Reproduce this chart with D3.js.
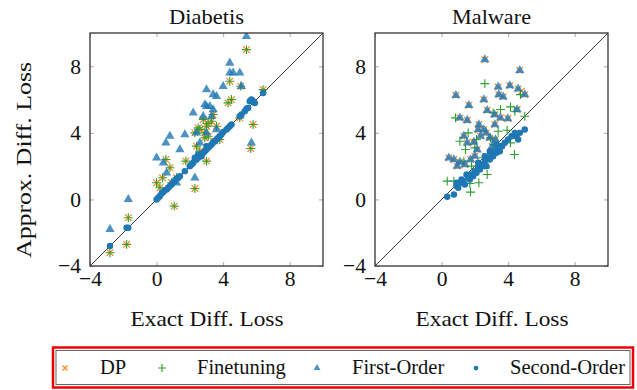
<!DOCTYPE html>
<html>
<head>
<meta charset="utf-8">
<script src="https://cdn.jsdelivr.net/npm/d3@7"></script>
<style>
  body { margin: 0; background: #fff; }
  svg { display: block; font-family: "Liberation Serif", "DejaVu Serif", serif; }
</style>
</head>
<body>
<div id="chart"></div>
<script>
const TICKS = [-4, 0, 4, 8];
const DOMAIN = [-4, 10];
const SERIES = ['DP', 'Finetuning', 'First-Order', 'Second-Order'];

// Diabetis panel, [exact, approx]
const diabetisDP = [
  [5.4, 9.0], [4.4, 7.1], [5.06, 6.8], [4.5, 6.0], [4.3, 5.8], [6.4, 6.6], [5.8, 4.5], [5.66, 3.06],
  [3.4, 5.1], [2.3, 4.0], [2.4, 3.2], [2.9, 3.7], [3.6, 4.4], [3.8, 3.6], [3.0, 2.3], [1.76, 2.3],
  [0.56, 2.4], [0.8, 1.9], [0.36, 1.3], [0.0, 1.0], [0.2, 0.7], [2.3, 0.66], [1.06, -0.4], [-1.7, -1.1],
  [-1.8, -2.7], [-2.8, -3.2], [5.0, 4.9], [2.8, 4.8], [3.0, 4.4], [2.9, 4.0], [3.1, 3.8], [2.5, 4.3],
  [3.3, 4.7], [0.9, 1.0], [1.2, 1.3], [3.5, 3.5], [2.6, 2.9], [3.1, 4.56], [2.6, 4.2]
];
const diabetisFinetuning = [
  [5.4, 9.0], [4.4, 7.1], [5.06, 6.8], [4.5, 6.0], [4.3, 5.8], [6.4, 6.6], [5.8, 4.5], [5.66, 3.06],
  [3.4, 5.1], [2.3, 4.0], [2.4, 3.2], [2.9, 3.7], [3.6, 4.4], [3.8, 3.6], [3.0, 2.3], [1.76, 2.3],
  [0.56, 2.4], [0.8, 1.9], [0.36, 1.3], [0.0, 1.0], [0.2, 0.7], [2.3, 0.66], [1.06, -0.4], [-1.7, -1.1],
  [-1.8, -2.7], [-2.8, -3.2], [5.0, 4.9], [2.8, 4.8], [3.0, 4.4], [2.9, 4.0], [3.1, 3.8], [2.5, 4.3],
  [3.3, 4.7], [0.9, 1.0], [1.2, 1.3], [3.5, 3.5], [2.6, 2.9], [3.1, 4.56], [2.6, 4.2]
];
const diabetisFirst = [
  [5.4, 9.8], [4.4, 8.2], [4.4, 7.6], [4.6, 7.6], [5.0, 7.6], [4.0, 6.8], [5.1, 6.8], [3.0, 6.6],
  [3.4, 6.3], [3.6, 6.2], [3.0, 5.6], [3.2, 5.6], [3.4, 5.4], [2.9, 5.7], [2.2, 5.2], [2.8, 5.0],
  [3.3, 5.0], [2.4, 4.0], [3.0, 4.0], [1.7, 3.9], [0.8, 3.8], [0.56, 3.4], [1.4, 3.0], [0.0, 2.5],
  [0.4, 2.2], [5.7, 3.4], [-1.7, 0.0], [-2.8, -1.8], [2.3, 1.3], [3.6, 4.2], [2.6, 3.4], [0.6, 1.6],
  [1.2, 1.0]
];
const diabetisSecond = [
  [-2.8, -2.8], [-1.8, -1.7], [-1.7, -1.7], [0.0, 0.0], [0.1, 0.1], [0.2, 0.2], [0.3, 0.35], [0.4, 0.45],
  [0.5, 0.55], [0.6, 0.6], [0.7, 0.7], [0.8, 0.8], [0.9, 0.9], [1.0, 1.05], [1.1, 1.1], [1.2, 1.25],
  [1.3, 1.3], [1.4, 1.4], [1.7, 1.7], [2.0, 2.0], [2.1, 2.1], [2.2, 2.2], [2.3, 2.35], [2.3, 2.5],
  [2.4, 2.4], [2.5, 2.5], [2.5, 2.7], [2.6, 2.6], [2.7, 2.7], [2.7, 2.6], [2.8, 2.8], [2.9, 2.9],
  [3.0, 3.0], [3.0, 3.2], [3.1, 3.1], [3.2, 3.2], [3.3, 3.3], [3.4, 3.45], [3.5, 3.5], [3.6, 3.6],
  [3.7, 3.7], [3.8, 3.8], [3.9, 3.9], [4.0, 4.05], [4.2, 4.2], [4.3, 4.3], [4.4, 4.4], [4.5, 4.5],
  [5.0, 5.0], [5.1, 5.1], [5.3, 5.3], [5.4, 5.45], [5.5, 5.5], [5.6, 5.9], [5.7, 6.0], [5.8, 5.9],
  [5.9, 5.8], [6.4, 6.4]
];

// Malware panel, [exact, approx]
const malwareDP = [
  [2.6, 8.4], [4.7, 7.76], [0.86, 6.26], [2.54, 6.0], [3.4, 6.76], [4.1, 6.84], [3.7, 6.16], [3.44, 6.3],
  [4.6, 6.64], [5.0, 6.3], [1.64, 5.66], [2.74, 5.36], [3.18, 5.1], [3.54, 4.9], [3.98, 4.86], [4.54, 5.4],
  [1.1, 4.9], [1.54, 4.76], [2.24, 4.5], [2.54, 4.2], [1.34, 3.8], [1.94, 3.44], [2.34, 3.8], [2.68, 4.0],
  [0.44, 2.5], [0.74, 2.4], [1.1, 2.24], [0.94, 2.0], [1.74, 2.4], [2.14, 3.0], [1.54, 3.4], [3.04, 3.2],
  [3.24, 3.6], [2.0, 2.6], [1.4, 2.1], [2.9, 3.7], [3.2, 4.5], [2.2, 4.2], [4.8, 6.5]
];
const malwareFinetuning = [
  [2.6, 6.96], [4.74, 6.3], [3.54, 5.4], [4.14, 5.56], [5.0, 5.0], [0.84, 4.9], [1.1, 3.5], [1.44, 3.0],
  [2.0, 3.1], [1.34, 2.3], [0.34, 1.1], [0.74, 1.1], [1.7, 0.96], [2.24, 1.0], [2.74, 1.5], [1.74, 0.44],
  [4.38, 2.7], [4.14, 3.4], [2.94, 3.7], [3.14, 3.3], [3.94, 4.16], [3.1, 5.2], [2.1, 3.6], [1.8, 2.0],
  [2.5, 2.5], [4.4, 5.3], [1.6, 4.0], [3.4, 4.1]
];
const malwareFirst = [
  [2.6, 8.4], [4.7, 7.76], [0.86, 6.26], [2.54, 6.0], [3.4, 6.76], [4.1, 6.84], [3.7, 6.16], [3.44, 6.3],
  [4.6, 6.64], [5.0, 6.3], [1.64, 5.66], [2.74, 5.36], [3.18, 5.1], [3.54, 4.9], [3.98, 4.86], [4.54, 5.4],
  [1.1, 4.9], [1.54, 4.76], [2.24, 4.5], [2.54, 4.2], [1.34, 3.8], [1.94, 3.44], [2.34, 3.8], [2.68, 4.0],
  [0.44, 2.5], [0.74, 2.4], [1.1, 2.24], [0.94, 2.0], [1.74, 2.4], [2.14, 3.0], [1.54, 3.4], [3.04, 3.2],
  [3.24, 3.6], [2.0, 2.6], [1.4, 2.1], [2.9, 3.7], [3.2, 4.5], [2.2, 4.2]
];
const malwareSecond = [
  [0.34, 0.16], [0.74, 0.3], [0.9, 0.8], [0.9, 1.0], [1.0, 0.7], [1.14, 1.0], [1.2, 1.2], [1.3, 1.1],
  [1.4, 0.9], [1.5, 1.5], [1.6, 1.3], [1.7, 1.2], [1.8, 1.5], [1.9, 1.4], [2.0, 1.7], [2.1, 1.6],
  [2.2, 1.9], [2.2, 2.2], [2.3, 1.8], [2.4, 2.1], [2.5, 2.0], [2.6, 2.3], [2.6, 2.6], [2.7, 2.0],
  [2.8, 2.5], [2.9, 2.4], [2.9, 2.9], [3.0, 2.7], [3.1, 2.6], [3.2, 2.9], [3.3, 2.8], [3.3, 3.3],
  [3.4, 3.0], [3.5, 2.9], [3.5, 3.2], [3.64, 3.2], [3.8, 3.4], [4.0, 3.6], [4.2, 3.8], [4.4, 4.0],
  [4.5, 3.8], [4.6, 3.6], [4.7, 4.0], [5.0, 4.2]
];

const panels = [
  { title: 'Diabetis', titleWidth: 75, left: 90, series: [diabetisDP, diabetisFinetuning, diabetisFirst, diabetisSecond] },
  { title: 'Malware', titleWidth: 79, left: 375, series: [malwareDP, malwareFinetuning, malwareFirst, malwareSecond] }
];

const W = 637, H = 390;
const plotSize = 233;
const plotTop = 33;

const COLORS = {
  'DP': '#ff7f0e',
  'Finetuning': '#2ca02c',
  'First-Order': '#1f77b4',
  'Second-Order': '#1f77b4'
};

const svg = d3.select('#chart').append('svg')
  .attr('width', W)
  .attr('height', H);

// draw one marker of a given series at the origin of group g
function drawMarker(g, name, s) {
  const c = COLORS[name];
  if (name === 'DP') {
    g.append('path')
      .attr('d', `M${-s},${-s}L${s},${s}M${-s},${s}L${s},${-s}`)
      .attr('stroke', c).attr('stroke-width', 1.1).attr('fill', 'none');
  } else if (name === 'Finetuning') {
    const p = s * 1.35;
    g.append('path')
      .attr('d', `M${-p},0L${p},0M0,${-p}L0,${p}`)
      .attr('stroke', c).attr('stroke-width', 1.1).attr('fill', 'none');
  } else if (name === 'First-Order') {
    g.append('path')
      .attr('d', d3.symbol(d3.symbolTriangle, s * s * 3.4)())
      .attr('fill', c).attr('fill-opacity', 0.8);
  } else {
    g.append('circle').attr('r', s * 0.95).attr('fill', c);
  }
}

panels.forEach((p, i) => {
  const x = d3.scaleLinear().domain(DOMAIN).range([p.left, p.left + plotSize]);
  const y = d3.scaleLinear().domain(DOMAIN).range([plotTop + plotSize, plotTop]);
  const g = svg.append('g');

  const clipId = `clip${i}`;
  svg.append('clipPath').attr('id', clipId)
    .append('rect')
    .attr('x', p.left).attr('y', plotTop)
    .attr('width', plotSize).attr('height', plotSize);

  // inward gray ticks on all four sides
  const tickStyle = sel => {
    sel.select('.domain').remove();
    sel.selectAll('.tick line').attr('stroke', '#aaa').attr('stroke-width', 1);
    sel.selectAll('.tick text')
      .attr('font-family', '"Liberation Serif", serif')
      .attr('font-size', 21.5)
      .attr('fill', '#111');
  };
  g.append('g').attr('transform', `translate(0,${plotTop + plotSize})`)
    .call(d3.axisBottom(x).tickValues(TICKS).tickSize(-4).tickPadding(5))
    .call(tickStyle);
  g.append('g').attr('transform', `translate(0,${plotTop})`)
    .call(d3.axisTop(x).tickValues(TICKS).tickSize(-4).tickFormat(''))
    .call(tickStyle);
  g.append('g').attr('transform', `translate(${p.left},0)`)
    .call(d3.axisLeft(y).tickValues(TICKS).tickSize(-4).tickPadding(9))
    .call(tickStyle);
  g.append('g').attr('transform', `translate(${p.left + plotSize},0)`)
    .call(d3.axisRight(y).tickValues(TICKS).tickSize(-4).tickFormat(''))
    .call(tickStyle);

  // diagonal y = x
  g.append('line')
    .attr('x1', x(DOMAIN[0])).attr('y1', y(DOMAIN[0]))
    .attr('x2', x(DOMAIN[1])).attr('y2', y(DOMAIN[1]))
    .attr('stroke', '#222').attr('stroke-width', 0.9);

  const marks = g.append('g').attr('clip-path', `url(#${clipId})`);
  SERIES.forEach((name, k) => {
    const size = name === 'Second-Order' ? 3.4 : 3.3;
    marks.append('g').selectAll('g')
      .data(p.series[k])
      .join('g')
      .attr('transform', d => `translate(${x(d[0])},${y(d[1])})`)
      .each(function () { drawMarker(d3.select(this), name, size); });
  });

  // frame
  g.append('rect')
    .attr('x', p.left).attr('y', plotTop)
    .attr('width', plotSize).attr('height', plotSize)
    .attr('fill', 'none').attr('stroke', '#333').attr('stroke-width', 1.3);

  g.append('text')
    .attr('x', p.left + plotSize / 2 - p.titleWidth / 2).attr('y', 24)
    .attr('font-size', 21.5).attr('fill', '#111')
    .attr('textLength', p.titleWidth).attr('lengthAdjust', 'spacingAndGlyphs')
    .text(p.title);

  g.append('text')
    .attr('x', p.left + plotSize / 2 - 76).attr('y', 326)
    .attr('font-size', 21.5).attr('fill', '#111')
    .attr('textLength', 153).attr('lengthAdjust', 'spacingAndGlyphs')
    .text('Exact Diff. Loss');
});

svg.append('text')
  .attr('transform', `translate(31,${160 + 98}) rotate(-90)`)
  .attr('font-size', 21.5).attr('fill', '#111')
  .attr('textLength', 196).attr('lengthAdjust', 'spacingAndGlyphs')
  .text('Approx. Diff. Loss');

// legend
const legend = svg.append('g');
legend.append('rect')
  .attr('x', 53).attr('y', 347.5).attr('width', 580).attr('height', 40)
  .attr('fill', '#fff').attr('stroke', '#e00').attr('stroke-width', 2.5);
legend.append('rect')
  .attr('x', 56).attr('y', 350.5).attr('width', 574).attr('height', 34)
  .attr('fill', 'none').attr('stroke', '#666').attr('stroke-width', 1);

const legendMarkX = [65, 162, 317, 476];
const legendTextX = [100, 197, 352, 510];
SERIES.forEach((name, k) => {
  const m = legend.append('g').attr('transform', `translate(${legendMarkX[k]},368)`);
  drawMarker(m, name, name === 'Finetuning' ? 3 : 2.5);
  legend.append('text')
    .attr('x', legendTextX[k]).attr('y', 373.5)
    .attr('font-size', 20.5).attr('fill', '#111')
    .text(name);
});
</script>
</body>
</html>
